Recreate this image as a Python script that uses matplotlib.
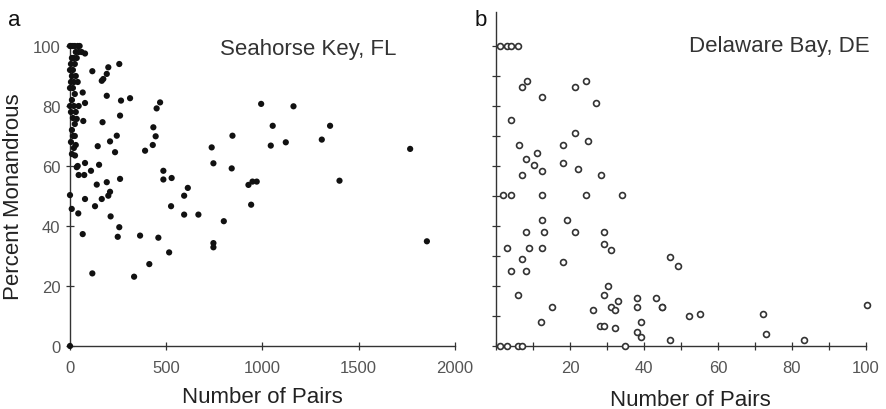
import numpy as np
import matplotlib
matplotlib.use('Agg')
import matplotlib.pyplot as plt
from matplotlib.ticker import MultipleLocator

plt.rcParams['font.family'] = ['Liberation Sans', 'DejaVu Sans']

#### panel a: Seahorse Key, FL (filled dots) ####
a_pairs = [0, 5, 15, 25, 40, 50, 30, 45, 60, 78, 10, 20, 35, 5, 25, 0, 15, 10, 30, 5, 20, 40,
           0, 15, 25, 66, 10, 0, 20, 45, 78, 5, 30, 15, 35, 25, 69, 10, 15, 25, 5, 30, 20, 10, 26,
           40, 78, 35, 74, 45, 109, 151, 0, 9, 43, 78, 66, 0,
           116, 199, 191, 165, 173, 256, 191, 265, 312, 260, 169,
           468, 450, 433, 445, 430, 390, 243, 208, 234, 144,
           139, 191, 260, 485, 485, 528,
           612, 593, 525, 593, 667, 799, 745, 745, 515,
           736, 745, 844, 840, 927, 948, 970, 941,
           993, 1053, 1043, 1121, 1161, 1351, 1308, 1400, 1767, 1854,
           165, 208, 199, 130, 211, 256, 248, 116, 333, 364, 412, 459]
a_pct = [100, 100, 100, 100, 100, 100, 98, 98, 98, 97.5, 96, 96, 96, 94, 94, 92, 92, 90, 90, 88, 88, 88,
         86, 86, 84, 84.5, 82, 80, 80, 80, 81, 78, 78, 76, 75.7, 74, 75, 72, 70, 70, 68, 67, 66, 64, 63.5,
         60, 61, 59.6, 57, 57, 58.4, 60.4, 50.3, 45.7, 44.2, 49, 37.3, 0,
         91.6, 92.9, 90.7, 88.4, 89, 94, 83.4, 81.8, 82.6, 76.8, 74.6,
         81.2, 79.2, 72.9, 69.9, 67, 65.1, 70.1, 68.2, 64.6, 66.6,
         53.8, 54.6, 55.7, 58.4, 55.5, 56,
         52.7, 50.1, 46.6, 43.8, 43.8, 41.6, 34.3, 32.9, 31.2,
         66.2, 60.9, 70.1, 59.2, 53.7, 54.8, 54.8, 47.1,
         80.7, 73.4, 66.8, 67.9, 79.9, 73.4, 68.8, 55.1, 65.7, 34.9,
         49, 51.4, 50.1, 46.6, 43.2, 39.6, 36.4, 24.2, 23.1, 36.8, 27.3, 36.1]

#### panel b: Delaware Bay, DE (open circles) ####
b_pairs = [1, 3, 4, 6, 1, 3, 6, 7, 35,
           7.0, 8.3, 12.3, 4.0, 6.1, 8.2, 7.0, 11.2, 10.2, 12.4, 1.8, 4.0, 12.3, 12.3, 8.1, 13.1,
           3.1, 9.0, 12.3, 6.9, 4.0, 8.1, 6.0, 12.2, 15.2, 18.1, 18.1, 21.3, 24.3, 27.1, 21.3, 25.0,
           22.2, 28.3, 24.2, 34.1, 19.2, 21.3, 18.1, 29.1, 29.1, 31.2, 30.3, 29.1, 33.1, 31.2, 32.1,
           26.1, 28.2, 29.1, 32.2, 38.1, 38.1, 39.2, 38.1, 39.2, 43.2, 44.9,
           47.1, 49.1, 45.0, 52.2, 55.1, 47.0, 72.2, 73.0, 83.3, 100.4]
b_pct = [100, 100, 100, 100, 0, 0, 0, 0, 0,
         86.2, 88.2, 83.1, 75.2, 67.1, 62.2, 57.1, 64.3, 60.3, 58.2, 50.3, 50.3, 50.3, 42, 38, 38,
         32.8, 32.8, 32.8, 28.9, 24.9, 24.9, 17, 8.1, 12.9, 67.1, 61, 86.4, 88.2, 81.1, 71.1, 68.2,
         59, 57, 50.2, 50.2, 42, 38, 27.9, 37.9, 33.9, 31.9, 20.1, 17, 14.9, 12.9, 12,
         12, 6.8, 6.8, 6, 16, 12.9, 8, 4.8, 2.9, 16, 12.9,
         29.8, 26.6, 12.9, 10, 10.8, 2, 10.8, 4, 1.9, 13.8]

W, H = 887, 410
fig = plt.figure(figsize=(W / 100, H / 100), dpi=100)

axcol = '#333333'
tickcol = '#555555'

##### left panel
ax1 = fig.add_axes([70 / W, (H - 347) / H, 385 / W, 300 / H])
ax1.scatter(a_pairs, a_pct, s=20, c='#111111', edgecolors='none', clip_on=False, zorder=3)
ax1.set_xlim(0, 2000)
ax1.set_ylim(0, 100)
ax1.set_xticks([0, 500, 1000, 1500, 2000])
ax1.set_yticks([0, 20, 40, 60, 80, 100])
ax1.set_xlabel('Number of Pairs', fontsize=16, color='#222222', labelpad=8)
ax1.set_ylabel('Percent Monandrous', fontsize=16, color='#222222', labelpad=6)
ax1.text(0.618, 0.99, 'Seahorse Key, FL', transform=ax1.transAxes, fontsize=16,
         color='#333333', ha='center', va='center')

##### right panel
ax2 = fig.add_axes([496 / W, (H - 347) / H, 370 / W, 334 / H])
ax2.scatter(b_pairs, b_pct, s=18, facecolors='white', edgecolors='#333333',
            linewidths=1.2, clip_on=False, zorder=3)
ax2.set_xlim(0, 100)
ax2.set_ylim(0, 111.3)
ax2.set_xticks([20, 40, 60, 80, 100])
ax2.xaxis.set_minor_locator(MultipleLocator(10))
ax2.set_yticks(np.arange(0, 101, 10))
ax2.set_yticklabels([])
ax2.set_xlabel('Number of Pairs', fontsize=16, color='#222222', labelpad=8)
ax2.xaxis.set_label_coords(0.525, -0.13)
ax2.text(0.765, 0.90, 'Delaware Bay, DE', transform=ax2.transAxes, fontsize=16,
         color='#333333', ha='center', va='center')

for ax in (ax1, ax2):
    for side in ('top', 'right'):
        ax.spines[side].set_visible(False)
    for side in ('left', 'bottom'):
        ax.spines[side].set_color(axcol)
        ax.spines[side].set_linewidth(1.0)
    ax.tick_params(which='both', direction='inout', length=6, width=0.9, color=axcol,
                   labelsize=12, labelcolor=tickcol)
    ax.tick_params(axis='x', pad=7)
    ax.tick_params(axis='y', pad=4)
ax2.tick_params(axis='y', length=6)

fig.text(14 / W, 1 - 21 / H, 'a', fontsize=16, ha='center', va='center', color='#111111')
fig.text(481 / W, 1 - 21 / H, 'b', fontsize=16, ha='center', va='center', color='#111111')

fig.savefig('out.png', dpi=100)
